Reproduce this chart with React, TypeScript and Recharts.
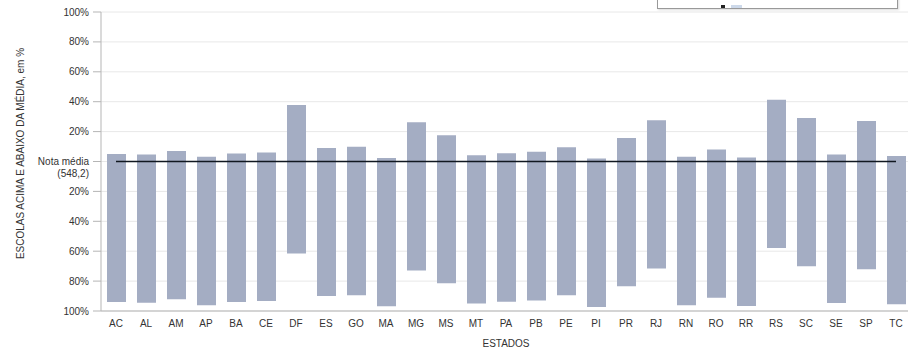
import React from 'react';
import { ComposedChart, Bar, Line, XAxis, YAxis, CartesianGrid, Label } from 'recharts';

if (typeof document !== 'undefined') {
  document.body.style.margin = '0';
}

const estados = ['AC', 'AL', 'AM', 'AP', 'BA', 'CE', 'DF', 'ES', 'GO', 'MA', 'MG', 'MS', 'MT', 'PA', 'PB', 'PE', 'PI', 'PR', 'RJ', 'RN', 'RO', 'RR', 'RS', 'SC', 'SE', 'SP', 'TC'];
// % of schools above the national mean score
const acimaDaMedia = [5.1, 4.7, 7.1, 3.1, 5.3, 6.0, 37.8, 9.1, 9.8, 2.3, 26.2, 17.6, 4.2, 5.6, 6.5, 9.6, 2.0, 15.8, 27.6, 3.1, 8.0, 2.7, 41.3, 29.1, 4.7, 27.1, 3.6];
// % of schools below the national mean score
const abaixoDaMedia = [94.0, 94.4, 92.2, 96.2, 94.0, 93.3, 61.5, 90.0, 89.5, 96.9, 72.9, 81.5, 94.9, 93.8, 92.9, 89.5, 97.3, 83.5, 71.5, 96.2, 91.1, 96.7, 57.8, 70.0, 94.7, 72.0, 95.5];
const notaMedia = 548.2;
const yTicks = [-100, -80, -60, -40, -20, 0, 20, 40, 60, 80, 100];

const data = estados.map((uf, i) => ({
  uf,
  faixa: [-abaixoDaMedia[i], acimaDaMedia[i]],
  media: 0,
}));

const TEXT = '#333333';
const FONT = '"Liberation Sans", Arial, sans-serif';

const YTick = (props: any) => {
  const { x, y, payload } = props;
  const v = payload.value;
  if (v === 0) {
    return (
      <text x={x} y={y} textAnchor="end" fontSize={10} fill={TEXT} fontFamily={FONT}>
        <tspan x={x} dy={3}>Nota média</tspan>
        <tspan x={x} dy={12}>({notaMedia.toFixed(1).replace('.', ',')})</tspan>
      </text>
    );
  }
  return (
    <text x={x} y={y} dy={3.5} textAnchor="end" fontSize={10} fill={TEXT} fontFamily={FONT}>
      {Math.abs(v)}%
    </text>
  );
};

const YLabel = (props: any) => {
  const { viewBox } = props;
  const cx = viewBox.x + 20;
  const cy = viewBox.y + viewBox.height / 2 - 8;
  return (
    <text x={cx} y={cy} transform={`rotate(-90 ${cx} ${cy})`} textAnchor="middle" dominantBaseline="central" fontSize={10} fill={TEXT} fontFamily={FONT}>
      ESCOLAS ACIMA E ABAIXO DA MÉDIA, em %
    </text>
  );
};

export default function App() {
  return (
    <div style={{ width: 908, height: 348, overflow: 'hidden', position: 'relative', background: '#fff' }}>
      <ComposedChart width={911} height={348} data={data} margin={{ top: 12, right: 0, bottom: 0, left: 0 }} barCategoryGap={0}>
        <CartesianGrid vertical={false} stroke="#e8e8e8" />
        <XAxis
          dataKey="uf"
          height={37}
          tickLine={false}
          tickSize={7}
          tickMargin={2}
          axisLine={{ stroke: '#b5b5b5' }}
          tick={{ fontSize: 10, fill: TEXT, fontFamily: FONT }}
          interval={0}
        >
          <Label value="ESTADOS" position="insideBottom" offset={1} fontSize={10} fill={TEXT} fontFamily={FONT} />
        </XAxis>
        <YAxis
          type="number"
          domain={[-100, 100]}
          ticks={yTicks}
          width={101}
          tickSize={8}
          tickMargin={4}
          tickLine={{ stroke: '#b5b5b5' }}
          axisLine={{ stroke: '#b5b5b5' }}
          tick={<YTick />}
          interval={0}
        >
          <Label content={<YLabel />} />
        </YAxis>
        <Bar dataKey="faixa" fill="#a4adc3" barSize={19} isAnimationActive={false} />
        <Line dataKey="media" stroke="#111820" strokeWidth={1.3} dot={false} activeDot={false} isAnimationActive={false} />
      </ComposedChart>
      <div style={{ position: 'absolute', left: 657, top: -20, width: 239, height: 27, border: '1px solid #999', boxShadow: '1px 1px 2px rgba(0,0,0,0.15)', background: '#fff' }}>
        <div style={{ position: 'absolute', left: 63, bottom: 0, width: 4, height: 3, background: '#222' }} />
        <div style={{ position: 'absolute', left: 73, bottom: 0, width: 11, height: 3, background: '#cdd9ea' }} />
      </div>
    </div>
  );
}
